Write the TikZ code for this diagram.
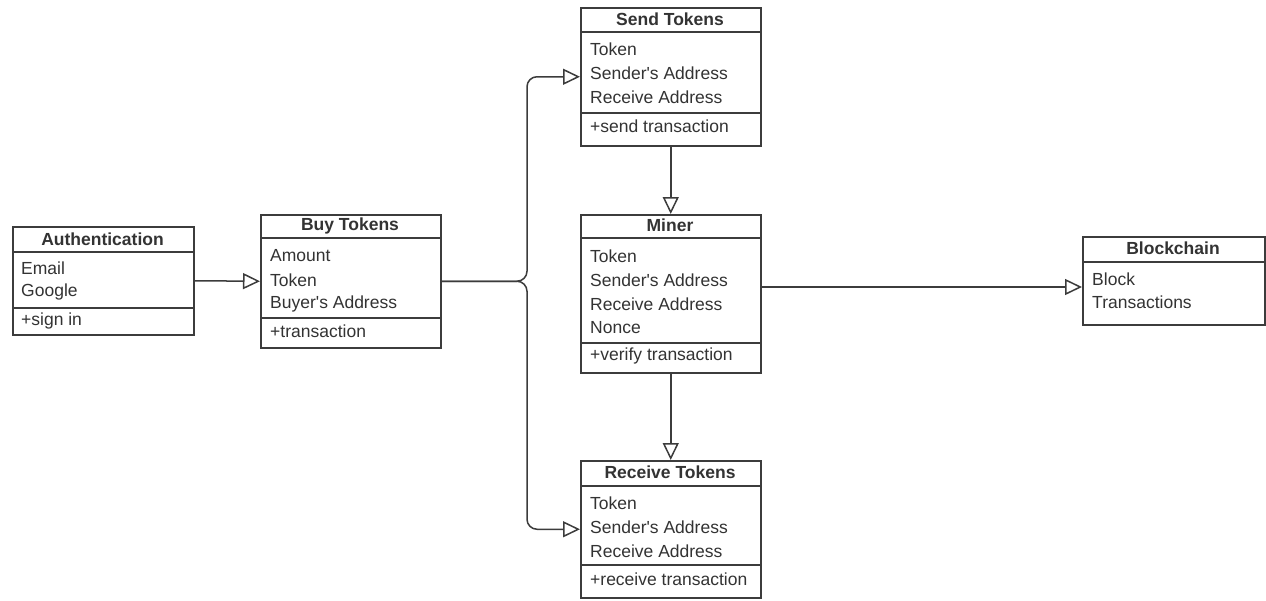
\documentclass[tikz,border=0pt]{standalone}
\usepackage{fontspec}
\setmainfont{Liberation Sans}[Ligatures=TeXOff]
\usetikzlibrary{arrows.meta}
\definecolor{ink}{HTML}{333333}
\definecolor{edge}{HTML}{3C3C3C}
\begin{document}
\begin{tikzpicture}[x=1pt,y=-1pt,
  every node/.style={font=\fontsize{17.5}{24}\selectfont, text=ink, inner sep=0pt},
  classbox/.style={draw=edge, line width=1.5pt, anchor=north west, fill=white},
  rule/.style={draw=edge, line width=1.5pt},
  ctitle/.style={font=\fontsize{17.5}{24}\selectfont\bfseries},
  attr/.style={anchor=west},
  conn/.style={draw=edge, line width=1.5pt,
    -{Triangle[open, length=17pt, width=16pt, line width=1.5pt]}},
  bus/.style={conn, rounded corners=10pt}]
\useasboundingbox (0,0) rectangle (1266,600);

% Authentication
\node[classbox, minimum width=181pt, minimum height=108pt] (auth) at (12,226) {};
\draw[rule] (12,252) -- (193,252);
\draw[rule] (12,308) -- (193,308);
\node[ctitle] (authT) at (102.5,239) {Authentication};
\node[attr] (authA1) at (21,268) {Email};
\node[attr] (authA2) at (21,292) {Google};
\node[attr] (authM1) at (21,321) {+sign in};

% Buy Tokens
\node[classbox, minimum width=180pt, minimum height=133pt] (buy) at (260,214) {};
\draw[rule] (260,238) -- (440,238);
\draw[rule] (260,318) -- (440,318);
\node[ctitle] (buyT) at (350,226) {Buy Tokens};
\node[attr] (buyA1) at (270,256) {Amount};
\node[attr] (buyA2) at (270,280) {Token};
\node[attr] (buyA3) at (270,304) {Buyer's Address};
\node[attr] (buyM1) at (270,331) {+transaction};

% Send Tokens
\node[classbox, minimum width=180pt, minimum height=138pt] (send) at (580,7) {};
\draw[rule] (580,32) -- (760,32);
\draw[rule] (580,113) -- (760,113);
\node[ctitle] (sendT) at (670,19) {Send Tokens};
\node[attr] (sendA1) at (590,49) {Token};
\node[attr] (sendA2) at (590,73) {Sender's Address};
\node[attr] (sendA3) at (590,97) {Receive Address};
\node[attr] (sendM1) at (590,126) {+send transaction};

% Miner
\node[classbox, minimum width=180pt, minimum height=158pt] (miner) at (580,214) {};
\draw[rule] (580,238) -- (760,238);
\draw[rule] (580,343) -- (760,343);
\node[ctitle] (minerT) at (670,225) {Miner};
\node[attr] (minerA1) at (590,256) {Token};
\node[attr] (minerA2) at (590,280) {Sender's Address};
\node[attr] (minerA3) at (590,304) {Receive Address};
\node[attr] (minerA4) at (590,328) {Nonce};
\node[attr] (minerM1) at (590,356) {+verify transaction};

% Receive Tokens
\node[classbox, minimum width=180pt, minimum height=137pt] (recv) at (580,460) {};
\draw[rule] (580,486) -- (760,486);
\draw[rule] (580,565) -- (760,565);
\node[ctitle] (recvT) at (670,472) {Receive Tokens};
\node[attr] (recvA1) at (590,503) {Token};
\node[attr] (recvA2) at (590,527) {Sender's Address};
\node[attr] (recvA3) at (590,551) {Receive Address};
\node[attr] (recvM1) at (590,579) {+receive transaction};

% Blockchain
\node[classbox, minimum width=182pt, minimum height=88pt] (chain) at (1082,236) {};
\draw[rule] (1082,262) -- (1264,262);
\node[ctitle] (chainT) at (1173,248) {Blockchain};
\node[attr] (chainA1) at (1092,279) {Block};
\node[attr] (chainA2) at (1092,302) {Transactions};

% connectors
\coordinate (busx) at (527,0);
\coordinate (chainy) at (0,287);
\draw[conn] (auth.east) -- (buy.west);
\draw[bus] (buy.east) -- (buy.east -| busx) |- (send.west);
\draw[bus] (buy.east) -- (buy.east -| busx) |- (recv.west);
\draw[conn] (send.south) -- (miner.north);
\draw[conn] (miner.south) -- (recv.north);
\draw[conn] (miner.east |- chainy) -- (chain.west |- chainy);
\end{tikzpicture}
\end{document}
